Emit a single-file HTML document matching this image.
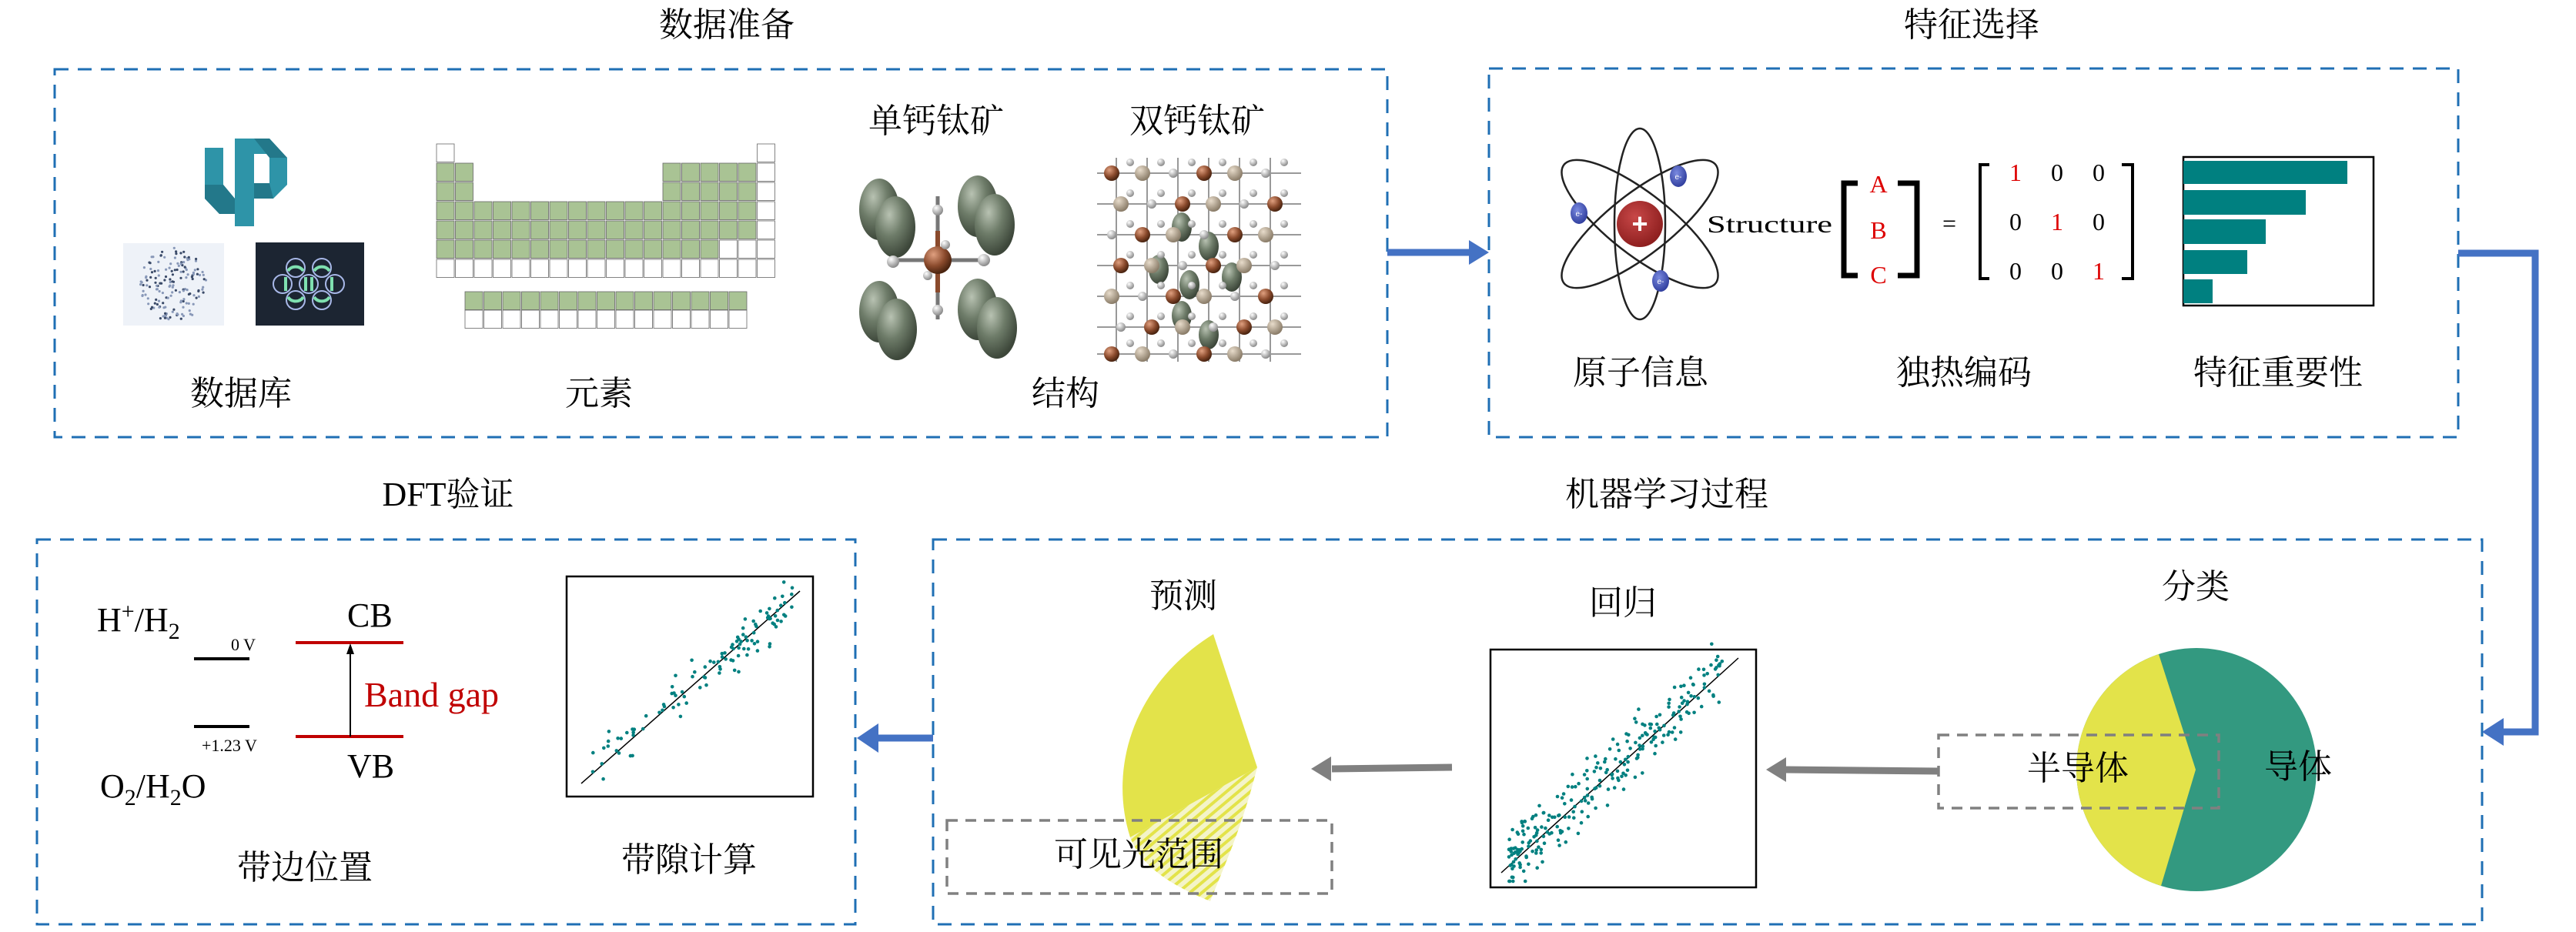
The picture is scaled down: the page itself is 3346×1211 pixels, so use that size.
<!DOCTYPE html>
<html><head><meta charset="utf-8">
<style>
html,body{margin:0;padding:0;background:#fff;}
svg{display:block;}
.cn{font-family:"Liberation Serif","Noto Serif CJK SC",serif;fill:#000;}
.lt{font-family:"Liberation Serif",serif;fill:#000;}
</style></head>
<body>
<svg id="s" width="3346" height="1211" viewBox="0 0 3346 1211" xmlns="http://www.w3.org/2000/svg">
<defs>
<radialGradient id="gs" cx="0.35" cy="0.3" r="0.7"><stop offset="0" stop-color="#b8c2b2"/><stop offset="0.5" stop-color="#6e7c69"/><stop offset="1" stop-color="#3d473a"/></radialGradient>
<radialGradient id="br" cx="0.35" cy="0.3" r="0.7"><stop offset="0" stop-color="#e0a080"/><stop offset="0.6" stop-color="#8a4a2c"/><stop offset="1" stop-color="#4a2410"/></radialGradient>
<radialGradient id="wh" cx="0.35" cy="0.3" r="0.7"><stop offset="0" stop-color="#ffffff"/><stop offset="1" stop-color="#8a8a8a"/></radialGradient>
<radialGradient id="tn" cx="0.35" cy="0.3" r="0.7"><stop offset="0" stop-color="#e8dccb"/><stop offset="1" stop-color="#8a7c68"/></radialGradient>
<radialGradient id="nuc" cx="0.4" cy="0.35" r="0.7"><stop offset="0" stop-color="#c84848"/><stop offset="1" stop-color="#8a1c1c"/></radialGradient>
<radialGradient id="el" cx="0.4" cy="0.35" r="0.7"><stop offset="0" stop-color="#7a8ae0"/><stop offset="1" stop-color="#2c3a9a"/></radialGradient>
<pattern id="hatch" width="10" height="10" patternUnits="userSpaceOnUse" patternTransform="rotate(-40)"><rect width="10" height="10" fill="#f4f4c8"/><rect width="10" height="4" fill="#e3e34a"/></pattern>
</defs>

<!-- Titles -->
<text class="cn" x="944" y="47" font-size="44" text-anchor="middle">数据准备</text>
<text class="cn" x="2561" y="47" font-size="44" text-anchor="middle">特征选择</text>
<text class="cn" x="582" y="657" font-size="44" text-anchor="middle">DFT验证</text>
<text class="cn" x="2165" y="657" font-size="44" text-anchor="middle">机器学习过程</text>

<!-- Dashed boxes -->
<g fill="none" stroke="#1f6fb4" stroke-width="3" stroke-dasharray="18,12">
<rect x="71" y="90" width="1731" height="478"/>
<rect x="1934" y="89" width="1259" height="479"/>
<rect x="48" y="701" width="1063" height="500"/>
<rect x="1212" y="701" width="2012" height="500"/>
</g>

<!-- Blue connectors -->
<g stroke="#4472c4" stroke-width="9" fill="none">
<line x1="1802" y1="328" x2="1915" y2="328"/>
<polyline points="3193,329 3293,329 3293,951 3250,951"/>
<line x1="1212" y1="959" x2="1140" y2="959"/>
</g>
<polygon points="1934,328 1908,312 1908,344" fill="#4472c4"/>
<polygon points="3224,951 3252,933 3252,969" fill="#4472c4"/>
<polygon points="1113,959 1141,940 1141,978" fill="#4472c4"/>

<!-- Gray arrows -->
<g stroke="#808080" stroke-width="9" fill="none">
<line x1="2518" y1="1002" x2="2318" y2="1000"/>
<line x1="1886" y1="997" x2="1730" y2="999"/>
</g>
<polygon points="2294,1000 2320,984 2320,1016" fill="#808080"/>
<polygon points="1703,999 1729,983 1729,1015" fill="#808080"/>

<!-- Box1 contents -->
<!-- logo -->
<g fill="#2e94a8">
<rect x="266" y="192" width="24" height="66"/>
<rect x="305" y="180" width="25" height="114"/>
<polygon points="266,240 290,240 305,258 330,258 330,278 285,278 266,258"/>
<polygon points="330,180 350,180 373,205 373,240 355,258 330,258 330,238 350,238 350,200 330,200"/>
</g>
<polygon points="290,240 305,258 305,278 285,278 266,258 266,240" fill="#23788a"/>
<polygon points="330,180 350,180 373,205 350,205" fill="#23788a"/>
<polygon points="330,238 350,238 355,258 330,258" fill="#23788a"/>
<!-- network image -->
<rect x="160" y="316" width="131" height="107" fill="#eef2f8"/>
<g id="net"></g>
<!-- dark square -->
<rect x="332" y="315" width="141" height="108" fill="#1c2532"/>
<g fill="none" stroke-width="2">
<g stroke="#a8b8e8">
<circle cx="384" cy="348" r="12"/><circle cx="418" cy="348" r="12"/>
<circle cx="384" cy="390" r="12"/><circle cx="418" cy="390" r="12"/>
<circle cx="367" cy="369" r="12"/><circle cx="401" cy="369" r="12"/><circle cx="435" cy="369" r="12"/>
</g>
<g stroke="#7fe0b0" stroke-width="4">
<path d="M374,352 A12,12 0 0 1 394,352"/><path d="M408,352 A12,12 0 0 1 428,352"/>
<path d="M374,386 A12,12 0 0 0 394,386"/><path d="M408,386 A12,12 0 0 0 428,386"/>
<line x1="371" y1="360" x2="371" y2="378"/><line x1="397" y1="360" x2="397" y2="378"/><line x1="405" y1="360" x2="405" y2="378"/><line x1="431" y1="360" x2="431" y2="378"/>
</g>
</g>
<!-- periodic table -->
<g id="pt"></g>

<!-- single perovskite -->
<g stroke="#777" stroke-width="5">
<line x1="1218" y1="255" x2="1218" y2="415"/>
<line x1="1162" y1="338" x2="1278" y2="338"/>
</g>
<line x1="1218" y1="300" x2="1218" y2="380" stroke="#8a4a2c" stroke-width="6"/>
<ellipse cx="1142" cy="272" rx="26" ry="40" fill="url(#gs)"/>
<ellipse cx="1163" cy="295" rx="26" ry="40" fill="url(#gs)"/>
<ellipse cx="1270" cy="268" rx="26" ry="40" fill="url(#gs)"/>
<ellipse cx="1292" cy="292" rx="26" ry="40" fill="url(#gs)"/>
<ellipse cx="1142" cy="405" rx="26" ry="40" fill="url(#gs)"/>
<ellipse cx="1165" cy="428" rx="26" ry="40" fill="url(#gs)"/>
<ellipse cx="1270" cy="402" rx="26" ry="40" fill="url(#gs)"/>
<ellipse cx="1295" cy="426" rx="26" ry="40" fill="url(#gs)"/>
<circle cx="1218" cy="338" r="18" fill="url(#br)"/>
<circle cx="1218" cy="273" r="7" fill="url(#wh)"/><circle cx="1218" cy="403" r="7" fill="url(#wh)"/>
<circle cx="1160" cy="340" r="8" fill="url(#wh)"/><circle cx="1278" cy="338" r="8" fill="url(#wh)"/>
<circle cx="1228" cy="318" r="6" fill="url(#wh)"/><circle cx="1205" cy="358" r="6" fill="url(#wh)"/>
<!-- double perovskite -->
<g id="dp"></g>

<text class="cn" x="1216" y="172" font-size="44" text-anchor="middle">单钙钛矿</text>
<text class="cn" x="1555" y="172" font-size="44" text-anchor="middle">双钙钛矿</text>
<text class="cn" x="313" y="526" font-size="44" text-anchor="middle">数据库</text>
<text class="cn" x="778" y="526" font-size="44" text-anchor="middle">元素</text>
<text class="cn" x="1384" y="526" font-size="44" text-anchor="middle">结构</text>

<!-- Box2 contents: atom -->
<g fill="none" stroke="#222" stroke-width="2.5">
<ellipse cx="2130" cy="291" rx="33" ry="124"/>
<ellipse cx="2130" cy="291" rx="40" ry="125" transform="rotate(-52 2130 291)"/>
<ellipse cx="2130" cy="291" rx="40" ry="125" transform="rotate(52 2130 291)"/>
</g>
<circle cx="2130" cy="291" r="30" fill="url(#nuc)"/>
<text x="2130" y="303" font-size="36" fill="#fff" text-anchor="middle" font-family="Liberation Sans,sans-serif" font-weight="bold">+</text>
<g font-size="10" fill="#fff" font-family="Liberation Sans,sans-serif" text-anchor="middle">
<ellipse cx="2180" cy="229" rx="11" ry="14" fill="url(#el)"/><text x="2180" y="233">e-</text>
<ellipse cx="2051" cy="277" rx="11" ry="14" fill="url(#el)"/><text x="2051" y="281">e-</text>
<ellipse cx="2157" cy="365" rx="11" ry="14" fill="url(#el)"/><text x="2157" y="369">e-</text>
</g>
<text class="lt" x="2217" y="302" font-size="32" textLength="163" lengthAdjust="spacingAndGlyphs">Structure</text>
<!-- [A B C] -->
<path d="M2413,238 H2395 V358 H2413" fill="none" stroke="#000" stroke-width="7"/>
<path d="M2465,238 H2490 V358 H2465" fill="none" stroke="#000" stroke-width="7"/>
<g class="lt" font-size="32" text-anchor="middle">
<text x="2440" y="250" fill="#d00" style="fill:#d00">A</text><text x="2440" y="310" style="fill:#d00">B</text><text x="2440" y="368" style="fill:#d00">C</text>
</g>
<text class="lt" x="2532" y="301" font-size="32" text-anchor="middle">=</text>
<path d="M2584,214 H2572 V362 H2584" fill="none" stroke="#000" stroke-width="4"/>
<path d="M2756,214 H2770 V362 H2756" fill="none" stroke="#000" stroke-width="4"/>
<g font-size="32" text-anchor="middle" font-family="Liberation Serif,serif">
<text x="2618" y="235" fill="#d00">1</text><text x="2672" y="235">0</text><text x="2726" y="235">0</text>
<text x="2618" y="299">0</text><text x="2672" y="299" fill="#d00">1</text><text x="2726" y="299">0</text>
<text x="2618" y="363">0</text><text x="2672" y="363">0</text><text x="2726" y="363" fill="#d00">1</text>
</g>
<!-- bar chart -->
<rect x="2836" y="204" width="247" height="193" fill="none" stroke="#000" stroke-width="2.5"/>
<g fill="#008080">
<rect x="2836" y="209" width="213" height="30"/>
<rect x="2836" y="247" width="159" height="32"/>
<rect x="2836" y="285" width="107" height="32"/>
<rect x="2836" y="325" width="83" height="31"/>
<rect x="2836" y="363" width="38" height="31"/>
</g>
<text class="cn" x="2131" y="499" font-size="44" text-anchor="middle">原子信息</text>
<text class="cn" x="2551" y="499" font-size="44" text-anchor="middle">独热编码</text>
<text class="cn" x="2959" y="499" font-size="44" text-anchor="middle">特征重要性</text>

<!-- Box3 contents -->
<text class="lt" x="126" y="820" font-size="44">H<tspan font-size="30" dy="-16">+</tspan><tspan dy="16">/H</tspan><tspan font-size="30" dy="10">2</tspan></text>
<text class="lt" x="300" y="845" font-size="22">0 V</text>
<line x1="252" y1="856" x2="324" y2="856" stroke="#000" stroke-width="4"/>
<line x1="252" y1="944" x2="324" y2="944" stroke="#000" stroke-width="4"/>
<text class="lt" x="262" y="976" font-size="22">+1.23 V</text>
<text class="lt" x="130" y="1036" font-size="44">O<tspan font-size="30" dy="10">2</tspan><tspan dy="-10">/H</tspan><tspan font-size="30" dy="10">2</tspan><tspan dy="-10">O</tspan></text>
<text class="lt" x="451" y="814" font-size="44">CB</text>
<text class="lt" x="451" y="1010" font-size="44">VB</text>
<line x1="384" y1="835" x2="524" y2="835" stroke="#c00000" stroke-width="4"/>
<line x1="384" y1="957" x2="524" y2="957" stroke="#c00000" stroke-width="4"/>
<line x1="455" y1="957" x2="455" y2="845" stroke="#000" stroke-width="2"/>
<polygon points="455,836 450,850 460,850" fill="#000"/>
<text class="lt" x="473" y="918" font-size="46" style="fill:#c00000">Band gap</text>
<rect x="736" y="749" width="320" height="286" fill="none" stroke="#000" stroke-width="2.5"/>
<line x1="755" y1="1018" x2="1039" y2="768" stroke="#000" stroke-width="1.5"/>
<g id="sc1" fill="#008080"></g>
<text class="cn" x="396" y="1142" font-size="44" text-anchor="middle">带边位置</text>
<text class="cn" x="895" y="1132" font-size="44" text-anchor="middle">带隙计算</text>

<!-- Box4 contents -->
<text class="cn" x="1537" y="789" font-size="44" text-anchor="middle">预测</text>
<path d="M1576,824 L1633,997 L1468,1088 C1440,1000 1470,890 1576,824 Z" fill="#e3e34a"/>
<path d="M1468,1088 L1633,997 C1612,1080 1588,1130 1572,1171 C1520,1150 1482,1125 1468,1088 Z" fill="url(#hatch)"/>
<rect x="1230" y="1066" width="500" height="95" fill="none" stroke="#808080" stroke-width="3.5" stroke-dasharray="14,10"/>
<text class="cn" x="1479" y="1125" font-size="44" text-anchor="middle">可见光范围</text>

<text class="cn" x="2108" y="798" font-size="44" text-anchor="middle">回归</text>
<rect x="1936" y="844" width="345" height="309" fill="none" stroke="#000" stroke-width="2.5"/>
<line x1="1950" y1="1134" x2="2258" y2="855" stroke="#000" stroke-width="1.5"/>
<g id="sc2" fill="#008080"></g>

<text class="cn" x="2852" y="777" font-size="44" text-anchor="middle">分类</text>
<ellipse cx="2853" cy="1000" rx="156" ry="158" fill="#339980"/>
<path d="M2804,850 L2852,1000 L2807,1151 A156,158 0 0 1 2804,850 Z" fill="#e3e34a"/>
<rect x="2518" y="955" width="364" height="95" fill="none" stroke="#808080" stroke-width="3.5" stroke-dasharray="14,10"/>
<text class="cn" x="2699" y="1013" font-size="44" text-anchor="middle">半导体</text>
<text class="cn" x="2985" y="1011" font-size="44" text-anchor="middle">导体</text>
</svg>
<script>
(function(){
var NS="http://www.w3.org/2000/svg";
var seed=7;function r(){seed=(seed*16807)%2147483647;return seed/2147483647;}
function g(){return (r()+r()+r()-1.5);}
function el(p,t,a){var e=document.createElementNS(NS,t);for(var k in a)e.setAttribute(k,a[k]);p.appendChild(e);return e;}
var s1=document.getElementById('sc1');
for(var i=0;i<110;i++){var t=r();var x=770+t*260,y=1005-t*228+g()*28;el(s1,'circle',{cx:x.toFixed(1),cy:y.toFixed(1),r:2.3});}
var s2=document.getElementById('sc2');
for(var i=0;i<260;i++){var t=Math.pow(r(),1.3);var x=1960+t*280,y=1120-t*255+g()*36;if(y>1145)y=1145;el(s2,'circle',{cx:x.toFixed(1),cy:y.toFixed(1),r:2.3});}
var n=document.getElementById('net');
for(var i=0;i<160;i++){var a=r()*6.28,d=Math.sqrt(r())*48;el(n,'circle',{cx:(225+Math.cos(a)*d*0.9).toFixed(1),cy:(370+Math.sin(a)*d).toFixed(1),r:1.6,fill:r()<0.5?'#3a4a68':'#8898b8'});}
var pt=document.getElementById('pt');var x0=567,y0=187,cw=24.5,ch=25;
function cell(x,y,c){el(pt,'rect',{x:x,y:y,width:cw-1.5,height:ch-1.5,fill:c,stroke:'#666','stroke-width':0.8});}
for(var row=0;row<7;row++){for(var col=0;col<18;col++){
 var ok=false;
 if(row==0)ok=(col==0||col==17);
 else if(row<3)ok=(col<2||col>11);
 else ok=true;
 if(!ok)continue;
 var c='#a9c394';
 if(col==17||(row==0)||row==6||(row==5&&(col==15||col==16)))c='#fff';
 if(row==6&&col<2)c='#fff';
 cell(x0+col*cw,y0+row*ch,c);
}}
for(var rr=0;rr<2;rr++)for(var k=0;k<15;k++)cell(604+k*cw,379+rr*24,rr==0?'#a9c394':'#fff');
var dp=document.getElementById('dp');
var cols=[1450,1490,1530,1570,1610,1650],rows=[225,265,305,345,385,425,460];
for(var i=0;i<cols.length;i++){el(dp,'line',{x1:cols[i],y1:205,x2:cols[i],y2:470,stroke:'#999','stroke-width':2});}
for(var j=0;j<rows.length;j++){el(dp,'line',{x1:1425,y1:rows[j],x2:1690,y2:rows[j],stroke:'#999','stroke-width':2});}
var sg=[[1535,295],[1570,320],[1535,410],[1570,435],[1505,350],[1600,360],[1545,370]];
sg.forEach(function(p){el(dp,'ellipse',{cx:p[0],cy:p[1],rx:13,ry:19,fill:'url(#gs)'});});
for(var i=0;i<cols.length;i++)for(var j=0;j<rows.length;j++){
 var k=(i+j)%3;var f=k==0?'url(#br)':(k==1?'url(#tn)':'url(#wh)');var rad=k==2?6:10;
 el(dp,'circle',{cx:cols[i]+(j%2?6:-6),cy:rows[j],r:rad,fill:f});
 el(dp,'circle',{cx:cols[i]+18,cy:rows[j]-14,r:5,fill:'url(#wh)'});
}
})();
</script>
</body></html>
